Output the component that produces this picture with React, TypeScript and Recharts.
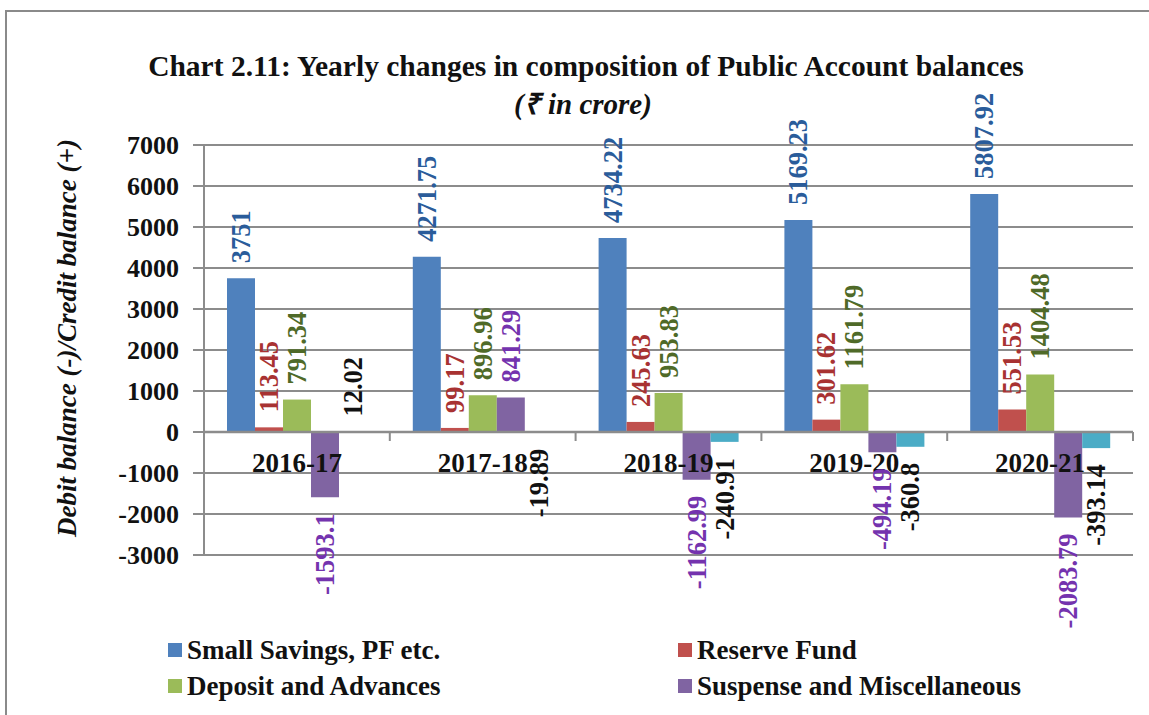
import {
  BarChart, Bar, XAxis, YAxis, CartesianGrid, ReferenceLine, LabelList, Legend,
} from 'recharts';

// ─── Data ─────────────────────────────────────────────────────────────────────
const years = ['2016-17', '2017-18', '2018-19', '2019-20', '2020-21'];
const smallSavings = [3751, 4271.75, 4734.22, 5169.23, 5807.92];
const reserveFund = [113.45, 99.17, 245.63, 301.62, 551.53];
const depositAdvances = [791.34, 896.96, 953.83, 1161.79, 1404.48];
const suspenseMisc = [-1593.1, 841.29, -1162.99, -494.19, -2083.79];
const others = [12.02, -19.89, -240.91, -360.8, -393.14];
const yTicks = [-3000, -2000, -1000, 0, 1000, 2000, 3000, 4000, 5000, 6000, 7000];

const data = years.map((y, i) => ({
  year: y,
  ss: smallSavings[i],
  rf: reserveFund[i],
  da: depositAdvances[i],
  sm: suspenseMisc[i],
  ot: others[i],
}));

// ─── Styling ──────────────────────────────────────────────────────────────────
const FONT = '"Liberation Serif", "Times New Roman", serif';
const GRID = '#8c8c8c';

const SERIES = [
  { key: 'ss', name: 'Small Savings, PF etc.', fill: '#4F81BD', text: '#2A5C9A', legend: true },
  { key: 'rf', name: 'Reserve Fund',           fill: '#C0504D', text: '#A83232', legend: true },
  { key: 'da', name: 'Deposit and Advances',   fill: '#9BBB59', text: '#4F6A28', legend: true },
  { key: 'sm', name: 'Suspense and Miscellaneous', fill: '#8064A2', text: '#7433AE', legend: true },
  { key: 'ot', name: 'Others',                 fill: '#4BACC6', text: '#111111', legend: false },
];

const W = 1149;
const H = 715;
const X_AXIS_H = 30;
const M = { top: 145, right: 16, bottom: 160 - X_AXIS_H, left: 84 };
const Y_AXIS_W = 120;
const PLOT_W = W - M.left - M.right - Y_AXIS_W;
const PLOT_H = H - M.top - M.bottom - X_AXIS_H;
const ZERO_Y = M.top + (PLOT_H * 7000) / 10000;
const BAND = PLOT_W / years.length;

function makeLabel(color: string) {
  return (props: any) => {
    const { x, y, width, height, value } = props;
    const v = Number(value);
    const top = Math.min(y, y + height);
    const bottom = Math.max(y, y + height);
    const cx = x + width / 2;
    const ay = v >= 0 ? top - 15 : bottom + 16;
    return (
      <text
        x={cx}
        y={ay}
        transform={`rotate(-90, ${cx}, ${ay})`}
        textAnchor={v >= 0 ? 'start' : 'end'}
        dominantBaseline="central"
        fill={color}
        fontFamily={FONT}
        fontWeight="bold"
        fontSize={26.5}
      >
        {value}
      </text>
    );
  };
}

function CategoryTick(props: any) {
  const { x, payload, index } = props;
  const left = x - BAND / 2;
  return (
    <g>
      <line x1={left} x2={left} y1={ZERO_Y} y2={ZERO_Y + 9} stroke={GRID} strokeWidth={2} />
      {index === years.length - 1 && (
        <line x1={left + BAND} x2={left + BAND} y1={ZERO_Y} y2={ZERO_Y + 9} stroke={GRID} strokeWidth={2} />
      )}
      <text
        x={x}
        y={ZERO_Y + 40}
        textAnchor="middle"
        fill="#111"
        fontFamily={FONT}
        fontWeight="bold"
        fontSize={27}
      >
        {payload.value}
      </text>
    </g>
  );
}

function LegendBox() {
  const items = SERIES.filter(s => s.legend);
  return (
    <div
      style={{
        display: 'grid',
        gridTemplateColumns: '510px 420px',
        fontFamily: FONT,
        fontWeight: 'bold',
        fontSize: 27,
        lineHeight: '36px',
        color: '#111',
      }}
    >
      {items.map(s => (
        <div key={s.key} style={{ display: 'flex', alignItems: 'center', height: 36, whiteSpace: 'nowrap' }}>
          <span style={{ width: 14, height: 14, background: s.fill, marginRight: 5, display: 'inline-block', flex: 'none' }} />
          {s.name}
        </div>
      ))}
    </div>
  );
}

export default function App() {
  return (
    <div style={{ position: 'absolute', left: 0, top: 0, width: W, height: H, background: '#fff', overflow: 'hidden' }}>
      <div style={{ position: 'absolute', left: 5, top: 10, width: W, height: 2, background: '#8a8a8a' }} />
      <div style={{ position: 'absolute', left: 5, top: 10, width: 2, height: H, background: '#8a8a8a' }} />
      <div
        style={{
          position: 'absolute', left: 0, top: 50, width: 1172, textAlign: 'center', whiteSpace: 'nowrap',
          fontFamily: FONT, fontWeight: 'bold', fontSize: 29.5, color: '#111',
        }}
      >
        Chart 2.11: Yearly changes in composition of Public Account balances
      </div>
      <div
        style={{
          position: 'absolute', left: 0, top: 83, width: 1166, textAlign: 'center',
          fontFamily: FONT, fontWeight: 'bold', fontStyle: 'italic', fontSize: 29, color: '#111',
        }}
      >
        (₹ in crore)
      </div>
      <BarChart
        width={W}
        height={H}
        data={data}
        margin={M}
        barSize={28}
        barGap={0}
        style={{ position: 'absolute', left: 0, top: 0 }}
      >
        <CartesianGrid vertical={false} stroke={GRID} strokeWidth={2} />
        <XAxis
          dataKey="year"
          height={X_AXIS_H}
          axisLine={false}
          tickLine={false}
          tick={<CategoryTick />}
          interval={0}
        />
        <YAxis
          width={Y_AXIS_W}
          domain={[-3000, 7000]}
          ticks={yTicks}
          interval={0}
          axisLine={{ stroke: GRID, strokeWidth: 2 }}
          tickLine={{ stroke: GRID, strokeWidth: 2 }}
          tickSize={11}
          tickMargin={14}
          tick={{ fill: '#111', fontFamily: FONT, fontWeight: 'bold', fontSize: 26 }}
          label={{
            content: () => (
              <text
                x={67}
                y={338}
                transform="rotate(-90, 67, 338)"
                textAnchor="middle"
                dominantBaseline="central"
                fill="#111"
                fontFamily={FONT}
                fontWeight="bold"
                fontStyle="italic"
                fontSize={27}
              >
                Debit balance (-)/Credit balance (+)
              </text>
            ),
          }}
        />
        <ReferenceLine y={0} stroke={GRID} strokeWidth={2.5} />
        {SERIES.map(s => (
          <Bar key={s.key} dataKey={s.key} name={s.name} fill={s.fill} isAnimationActive={false}>
            <LabelList dataKey={s.key} content={makeLabel(s.text)} />
          </Bar>
        ))}
        <Legend
          layout="vertical"
          align="center"
          verticalAlign="middle"
          wrapperStyle={{ top: 632, left: 168, width: 960 }}
          content={() => <LegendBox />}
        />
      </BarChart>
    </div>
  );
}
